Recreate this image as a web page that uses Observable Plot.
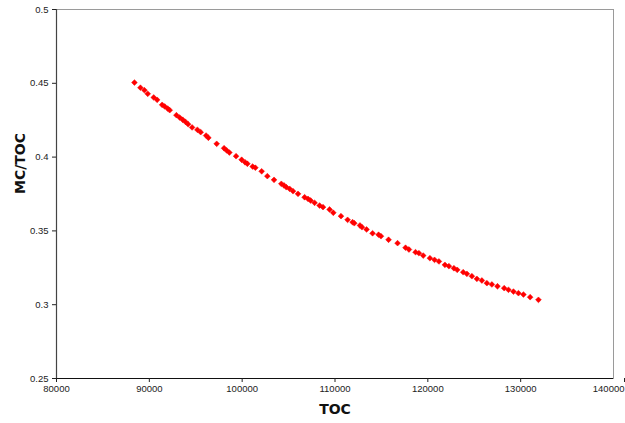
<!DOCTYPE html>
<html>
<head>
<meta charset="utf-8">
<script src="https://cdn.jsdelivr.net/npm/d3@7"></script>
<script src="https://cdn.jsdelivr.net/npm/@observablehq/plot@0.6"></script>
<style>
  html, body { margin: 0; padding: 0; background: #fff; }
  #chart svg { display: block; }
</style>
</head>
<body>
<div id="chart"></div>
<script>
const toc = [
  88396, 89042, 89472, 89828, 90473, 90839, 91378, 91657, 91980, 92196,
  92917, 93272, 93595, 93886, 94176, 94607, 95177, 95533, 96114, 96361,
  97255, 98051, 98331, 98622, 99343, 99946, 100312, 100559, 101130, 101420,
  102099, 102712, 103433, 104219, 104510, 104757, 105113, 105479, 106017, 106727,
  107093, 107373, 107803, 108342, 108708, 109418, 109816, 110645, 111356, 111894,
  112077, 112690, 112906, 113401, 114047, 114693, 114951, 115769, 116738, 117599,
  117965, 118675, 119041, 119504, 120225, 120721, 121194, 121840, 122270, 122809,
  123164, 123809, 124208, 124746, 125284, 125823, 126361, 126899, 127502, 128223,
  128686, 129224, 129762, 130300, 131021, 131915
];
const mcToc = [
  0.4505, 0.4470, 0.4453, 0.4429, 0.4404, 0.4388, 0.4354, 0.4343, 0.4329, 0.4318,
  0.4284, 0.4268, 0.4253, 0.4239, 0.4223, 0.4201, 0.4185, 0.4169, 0.4146, 0.4131,
  0.4090, 0.4060, 0.4045, 0.4031, 0.4006, 0.3982, 0.3965, 0.3955, 0.3936, 0.3928,
  0.3904, 0.3871, 0.3846, 0.3819, 0.3808, 0.3796, 0.3785, 0.3769, 0.3751, 0.3728,
  0.3717, 0.3706, 0.3690, 0.3672, 0.3661, 0.3645, 0.3623, 0.3600, 0.3575, 0.3559,
  0.3552, 0.3537, 0.3525, 0.3510, 0.3484, 0.3474, 0.3464, 0.3440, 0.3417, 0.3386,
  0.3374, 0.3356, 0.3349, 0.3333, 0.3315, 0.3304, 0.3293, 0.3270, 0.3261, 0.3247,
  0.3236, 0.3220, 0.3209, 0.3193, 0.3175, 0.3164, 0.3146, 0.3137, 0.3125, 0.3112,
  0.3101, 0.3089, 0.3078, 0.3069, 0.3051, 0.3033
];
const xTicks = [80000, 90000, 100000, 110000, 120000, 130000, 140000];
const yTicks = [0.25, 0.3, 0.35, 0.4, 0.45, 0.5];
const xTitle = "TOC";
const yTitle = "MC/TOC";

const data = toc.map((t, i) => ({toc: t, ratio: mcToc[i]}));
const lastX = xTicks[xTicks.length - 1];

const chart = Plot.plot({
  width: 625,
  height: 423,
  marginLeft: 56,
  marginRight: 12,
  marginTop: 9,
  marginBottom: 45,
  style: {fontFamily: "'Liberation Sans', Arial, sans-serif", fontSize: "9.5px", color: "#222", background: "#fff"},
  x: {domain: [80000, 140000]},
  y: {domain: [0.25, 0.5]},
  marks: [
    Plot.frame({stroke: "#9a9a9a", strokeWidth: 1}),
    Plot.ruleX([80000], {stroke: "#444", strokeWidth: 1.2}),
    Plot.ruleY([0.25], {stroke: "#111", strokeWidth: 1.2}),
    Plot.axisX({ticks: xTicks.slice(0, -1), tickFormat: d => String(d), tickSize: 4, tickPadding: 3, label: null, stroke: "#222"}),
    Plot.axisX({ticks: [lastX], tickFormat: d => String(d), tickSize: 4, tickPadding: 3, label: null, stroke: "#222", textAnchor: "end", dx: 11}),
    Plot.axisY({ticks: yTicks, tickFormat: d => String(+d.toFixed(2)), tickSize: 4, tickPadding: 4, label: null, stroke: "#222"}),
    Plot.dot(data, {x: "toc", y: "ratio", symbol: "diamond2", r: 2.6, fill: "#ff0000", stroke: "#ff0000", strokeWidth: 0.5}),
    Plot.text([xTitle], {frameAnchor: "bottom", dy: 35, fontWeight: "bold", fontSize: 14, fill: "#111", fontFamily: "'DejaVu Sans', Verdana, sans-serif"}),
    Plot.text([yTitle], {frameAnchor: "left", dx: -36, rotate: -90, fontWeight: "bold", fontSize: 14, fill: "#111", fontFamily: "'DejaVu Sans', Verdana, sans-serif"})
  ]
});
document.getElementById("chart").appendChild(chart);
</script>
</body>
</html>
